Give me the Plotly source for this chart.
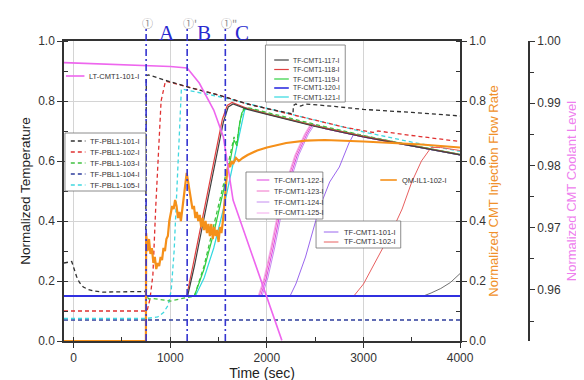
import plotly.graph_objects as go

# ---------------- data ----------------
t_pbl101 = [-100, -20, 0, 30, 60, 100, 150, 200, 300, 500, 745, 752, 775, 960, 1200, 1500, 1800, 2000, 2270, 2275, 2300, 2350, 2400, 2700, 3000, 3500, 4000]
v_pbl101 = [0.26, 0.265, 0.245, 0.215, 0.195, 0.18, 0.172, 0.167, 0.163, 0.163, 0.165, 0.885, 0.887, 0.868, 0.845, 0.82, 0.79, 0.775, 0.757, 0.785, 0.79, 0.783, 0.79, 0.782, 0.772, 0.762, 0.75]

t_pbl102 = [-100, 760, 790, 820, 850, 880, 905, 950, 1200, 1500, 1800, 2000, 2500, 2800, 3100, 3150, 3500, 4000]
v_pbl102 = [0.10, 0.10, 0.14, 0.22, 0.45, 0.65, 0.80, 0.866, 0.845, 0.82, 0.79, 0.775, 0.735, 0.713, 0.695, 0.70, 0.685, 0.665]

t_pbl103 = [-100, 750, 780, 820, 900, 1000, 1100, 1200, 1250, 1350, 1450, 1550, 1620, 1660, 1690, 1720, 1760, 1800, 2000, 2500, 3000, 3500, 4000]
v_pbl103 = [0.15, 0.15, 0.14, 0.142, 0.138, 0.133, 0.14, 0.147, 0.15, 0.25, 0.38, 0.52, 0.62, 0.68, 0.66, 0.73, 0.775, 0.778, 0.762, 0.722, 0.685, 0.652, 0.622]

t_pbl104 = [-100, 4000]
v_pbl104 = [0.07, 0.07]

t_pbl105 = [-100, 750, 870, 930, 980, 1010, 1040, 1060, 1080, 1100, 1115, 1500, 2000, 2500, 3000, 3500, 4000]
v_pbl105 = [0.075, 0.075, 0.08, 0.095, 0.12, 0.17, 0.30, 0.45, 0.62, 0.78, 0.84, 0.815, 0.775, 0.735, 0.697, 0.663, 0.632]

t_cmt117 = [-100, 1180, 1250, 1300, 1350, 1400, 1450, 1500, 1550, 1600, 1650, 1800, 2000, 2500, 3000, 3500, 4000]
v_cmt117 = [0.15, 0.15, 0.25, 0.33, 0.42, 0.50, 0.58, 0.66, 0.73, 0.78, 0.79, 0.772, 0.755, 0.715, 0.68, 0.65, 0.62]

t_cmt118 = [-100, 1170, 1240, 1290, 1340, 1390, 1440, 1490, 1540, 1590, 1640, 1800, 2000, 2500, 3000, 3500, 4000]
v_cmt118 = [0.15, 0.15, 0.26, 0.34, 0.43, 0.51, 0.59, 0.67, 0.74, 0.785, 0.795, 0.775, 0.757, 0.717, 0.682, 0.651, 0.621]

t_cmt119 = [-100, 1250, 1350, 1450, 1550, 1620, 1660, 1690, 1710, 1740, 1780, 1850, 2000, 2500, 3000, 3500, 4000]
v_cmt119 = [0.15, 0.15, 0.24, 0.36, 0.50, 0.60, 0.67, 0.65, 0.71, 0.76, 0.777, 0.772, 0.758, 0.718, 0.683, 0.652, 0.622]

t_cmt120 = [-100, 4000]
v_cmt120 = [0.15, 0.15]

t_cmt121 = [-100, 1260, 1350, 1450, 1550, 1650, 1720, 1770, 1800, 2000, 2500, 3000, 3500, 4000]
v_cmt121 = [0.15, 0.15, 0.21, 0.31, 0.44, 0.59, 0.70, 0.77, 0.775, 0.757, 0.717, 0.682, 0.65, 0.62]

t_cmt122 = [-100, 1935, 1995, 2065, 2145, 2215, 2315, 2415, 2475, 2600, 3000, 3500, 4000]
v_cmt122 = [0.15, 0.15, 0.21, 0.31, 0.44, 0.52, 0.62, 0.69, 0.722, 0.708, 0.68, 0.65, 0.62]
t_cmt123 = [-100, 1920, 1980, 2050, 2130, 2200, 2300, 2400, 2460, 2600, 3000, 3500, 4000]
v_cmt123 = [0.15, 0.15, 0.21, 0.31, 0.44, 0.52, 0.62, 0.69, 0.722, 0.708, 0.68, 0.65, 0.62]
t_cmt124 = [-100, 1950, 2010, 2080, 2160, 2230, 2330, 2430, 2490, 2600, 3000, 3500, 4000]
v_cmt124 = [0.15, 0.15, 0.21, 0.31, 0.44, 0.52, 0.62, 0.69, 0.72, 0.708, 0.68, 0.65, 0.62]
t_cmt125 = [-100, 1910, 1970, 2040, 2120, 2190, 2290, 2390, 2450, 2600, 3000, 3500, 4000]
v_cmt125 = [0.15, 0.15, 0.21, 0.31, 0.44, 0.52, 0.62, 0.69, 0.722, 0.708, 0.68, 0.65, 0.62]

t_cmt101 = [-100, 2240, 2300, 2400, 2540, 2650, 2750, 2800, 2850, 2900, 3000, 3500, 4000]
v_cmt101 = [0.15, 0.15, 0.19, 0.28, 0.44, 0.53, 0.58, 0.62, 0.66, 0.69, 0.683, 0.652, 0.622]

t_cmt102 = [-100, 2900, 3000, 3100, 3200, 3300, 3400, 3500, 3600, 3700, 3800, 4000]
v_cmt102 = [0.15, 0.15, 0.19, 0.25, 0.31, 0.37, 0.44, 0.53, 0.60, 0.645, 0.645, 0.635]

t_late = [-100, 3620, 3700, 3800, 3900, 4000]
v_late = [0.15, 0.15, 0.16, 0.175, 0.195, 0.225]

# CMT coolant level (third axis)
t_level = [-100, 500, 1000, 1175, 1300, 1450, 1550, 1650, 1800, 2000, 2155]
v_level = [0.99653, 0.99624, 0.99590, 0.99566, 0.99325, 0.98891, 0.98457, 0.97444, 0.96769, 0.95900, 0.95190]

# CMT injection flow rate (right axis)
t_flow = [-100, 748, 750, 765, 780, 795, 810, 825, 840, 855, 870, 885, 900, 915, 930, 945, 960, 975, 990, 1005,
          1020, 1035, 1050, 1065, 1080, 1095, 1110, 1125, 1140, 1155, 1170, 1185, 1200, 1215, 1230, 1245, 1260,
          1275, 1290, 1305, 1320, 1335, 1350, 1365, 1380, 1395, 1410, 1425, 1440, 1455, 1470, 1485, 1500, 1515,
          1530, 1545, 1560, 1575, 1590, 1605, 1620, 1635, 1650, 1680, 1710, 1750, 1800, 1900, 2000, 2200, 2400,
          2600, 2800, 3000, 3300, 3600, 4000]
v_flow = [0.0, 0.0, 0.36, 0.30, 0.34, 0.29, 0.31, 0.26, 0.28, 0.24, 0.26, 0.25, 0.28, 0.27, 0.31, 0.30, 0.34, 0.35, 0.40, 0.42,
          0.45, 0.44, 0.47, 0.45, 0.41, 0.43, 0.40, 0.44, 0.49, 0.52, 0.56, 0.53, 0.50, 0.46, 0.44, 0.45, 0.41,
          0.43, 0.40, 0.42, 0.38, 0.41, 0.37, 0.40, 0.36, 0.39, 0.35, 0.39, 0.34, 0.38, 0.35, 0.37, 0.33, 0.38,
          0.36, 0.40, 0.45, 0.52, 0.57, 0.59, 0.58, 0.60, 0.59, 0.61, 0.60, 0.61, 0.62, 0.635, 0.645, 0.66, 0.668,
          0.67, 0.668, 0.665, 0.66, 0.655, 0.645]

event_t = [750, 1175, 1570]
event_marks = ["①", "①'", "①\""]
event_letters = ["A", "B", "C"]

x_ticks = [0, 1000, 2000, 3000, 4000]
y_ticks = [0.0, 0.2, 0.4, 0.6, 0.8, 1.0]
lvl_ticks = [0.96, 0.97, 0.98, 0.99, 1.00]

# ---------------- layout geometry ----------------
W, H = 584, 380
ML, MR, MT, MB = 56, 6, 33, 47
PW = W - ML - MR
PH = H - MT - MB
PLOT_RIGHT = 463
XDOM = (PLOT_RIGHT - ML) / PW
AX3_X = 534


def px(xp):
    return (xp - ML) / PW


def py(yp):
    return (MT + PH - yp) / PH


FONT = "Liberation Sans, Arial, sans-serif"

fig = go.Figure()

styles = {}


def add(t, v, name, color, dash="solid", width=1.2, yaxis="y"):
    styles[name] = dict(color=color, dash=dash, width=width)
    fig.add_trace(go.Scatter(x=t, y=v, mode="lines", name=name, yaxis=yaxis, showlegend=False,
                             line=dict(color=color, dash=dash, width=width)))


D = "4px,3px"
add(t_pbl104, v_pbl104, "TF-PBL1-104-I", "#2c3c9c", D, 1.3)
add(t_pbl105, v_pbl105, "TF-PBL1-105-I", "#40d8e0", D, 1.3)
add(t_pbl103, v_pbl103, "TF-PBL1-103-I", "#40c040", D, 1.3)
add(t_late, v_late, "late", "#707070", "solid", 1.0)
add(t_cmt102, v_cmt102, "TF-CMT1-102-I", "#e86060", "solid", 1.0)
add(t_cmt101, v_cmt101, "TF-CMT1-101-I", "#9a66ee", "solid", 1.0)
add(t_cmt125, v_cmt125, "TF-CMT1-125-I", "#f4a8ec", "solid", 1.0)
add(t_cmt124, v_cmt124, "TF-CMT1-124-I", "#c48cf0", "solid", 1.0)
add(t_cmt123, v_cmt123, "TF-CMT1-123-I", "#f070c8", "solid", 1.0)
add(t_cmt122, v_cmt122, "TF-CMT1-122-I", "#e040e0", "solid", 1.0)
add(t_cmt121, v_cmt121, "TF-CMT1-121-I", "#30d8e0", "solid", 1.2)
add(t_cmt119, v_cmt119, "TF-CMT1-119-I", "#30d040", "solid", 1.2)
add(t_cmt118, v_cmt118, "TF-CMT1-118-I", "#e04040", "solid", 1.2)
add(t_cmt117, v_cmt117, "TF-CMT1-117-I", "#404040", "solid", 1.2)
add(t_pbl102, v_pbl102, "TF-PBL1-102-I", "#e03030", D, 1.3)
add(t_pbl101, v_pbl101, "TF-PBL1-101-I", "#303030", D, 1.3)
add(t_cmt120, v_cmt120, "TF-CMT1-120-I", "#3030e0", "solid", 1.8)
add(t_flow, v_flow, "QM-IL1-102-I", "#f5901a", "solid", 2.2, "y2")
add(t_level, v_level, "LT-CMT1-101-I", "#ee66ee", "solid", 1.6, "y3")

shapes = []
annotations = []

# event lines and their labels
for t, mark in zip(event_t, event_marks):
    shapes.append(dict(type="line", xref="x", yref="paper", x0=t, x1=t, y0=0, y1=py(19),
                       line=dict(color="#3535d0", width=1.6, dash="7px,3px,2px,3px")))
    annotations.append(dict(xref="x", yref="paper", x=t, y=py(15), text=mark, showarrow=False,
                            xanchor="left", yanchor="middle", xshift=-6,
                            font=dict(family="Noto Sans CJK JP, DejaVu Sans", size=11, color="#909090")))
letter_shift = [21, 17, 17]
for t, letter, sh in zip(event_t, event_letters, letter_shift):
    annotations.append(dict(xref="x", yref="paper", x=t, y=py(25), text=letter, showarrow=False,
                            xanchor="center", yanchor="middle", xshift=sh,
                            font=dict(family="Liberation Serif, Times New Roman, serif", size=21, color="#2a2ad0")))

# custom legends (pixel layout)
legends = [
    dict(box=(57, 125, 140, 183), rows=[("TF-PBL1-101-I", 133), ("TF-PBL1-102-I", 144), ("TF-PBL1-103-I", 155),
                                         ("TF-PBL1-104-I", 166), ("TF-PBL1-105-I", 177)], lx=(63, 78), tx=81, fs=7.5),
    dict(box=(263, 37, 345, 94), rows=[("TF-CMT1-117-I", 52), ("TF-CMT1-118-I", 61.5), ("TF-CMT1-119-I", 71),
                                        ("TF-CMT1-120-I", 80), ("TF-CMT1-121-I", 89)], lx=(272, 287), tx=289, fs=6.8),
    dict(box=(243, 164, 322, 211), rows=[("TF-CMT1-122-I", 172), ("TF-CMT1-123-I", 183), ("TF-CMT1-124-I", 194),
                                          ("TF-CMT1-125-I", 205)], lx=(254, 267), tx=270, fs=7.2),
    dict(box=(315, 213, 402, 240), rows=[("TF-CMT1-101-I", 224), ("TF-CMT1-102-I", 234)], lx=(323, 338), tx=342, fs=7.5),
    dict(box=None, rows=[("LT-CMT1-101-I", 68)], lx=(58, 77), tx=80, fs=7.5),
    dict(box=None, rows=[("QM-IL1-102-I", 172)], lx=(381, 398), tx=401, fs=7.5),
]
for lg in legends:
    if lg["box"]:
        x0, y0, x1, y1 = lg["box"]
        shapes.append(dict(type="rect", xref="paper", yref="paper", x0=px(x0), x1=px(x1), y0=py(y1), y1=py(y0),
                           line=dict(color="#707070", width=0.8), fillcolor="white", layer="above"))
    for name, yy in lg["rows"]:
        st = styles[name]
        shapes.append(dict(type="line", xref="paper", yref="paper", x0=px(lg["lx"][0]), x1=px(lg["lx"][1]),
                           y0=py(yy), y1=py(yy), layer="above",
                           line=dict(color=st["color"], width=min(st["width"], 1.6), dash=st["dash"])))
        annotations.append(dict(xref="paper", yref="paper", x=px(lg["tx"]), y=py(yy), text=name, showarrow=False,
                                xanchor="left", yanchor="middle", font=dict(family=FONT, size=lg["fs"], color="#333")))

axis_common = dict(showline=True, linecolor="#333", linewidth=1.5, ticks="outside", ticklen=5, tickcolor="#333",
                   tickfont=dict(family=FONT, size=12, color="#333"), zeroline=False)

fig.update_layout(
    width=W, height=H, margin=dict(l=ML, r=MR, t=MT, b=MB),
    paper_bgcolor="white", plot_bgcolor="white", showlegend=False,
    shapes=shapes, annotations=annotations,
    xaxis=dict(domain=[0, XDOM], range=[-100, 4000], tickvals=x_ticks, showgrid=True, gridcolor="#d4d4d4",
               gridwidth=1, mirror=True,
               minor=dict(dtick=500, tick0=0, ticks="inside", ticklen=4, tickcolor="#333", showgrid=False),
               title=dict(text="Time (sec)", font=dict(family=FONT, size=14, color="#222"), standoff=4),
               **axis_common),
    yaxis=dict(range=[0, 1], tickvals=y_ticks, tickformat=".1f", showgrid=True, gridcolor="#d4d4d4",
               minor=dict(dtick=0.1, ticks="inside", ticklen=4, tickcolor="#333", showgrid=False),
               title=dict(text="Normalized Temperature", font=dict(family=FONT, size=13.5, color="#222"), standoff=4),
               **axis_common),
    yaxis2=dict(overlaying="y", side="right", anchor="x", range=[0, 1], tickvals=y_ticks, tickformat=".1f",
                showgrid=False,
                minor=dict(dtick=0.1, ticks="inside", ticklen=4, tickcolor="#333", showgrid=False),
                title=dict(text="Normalized CMT Injection Flow Rate", font=dict(family=FONT, size=13, color="#f0902a"),
                           standoff=4),
                **axis_common),
    yaxis3=dict(overlaying="y", side="right", anchor="free", position=px(AX3_X), range=[0.9518, 1.0],
                tickvals=lvl_ticks, tickformat=".2f", showgrid=False,
                minor=dict(dtick=0.005, ticks="outside", ticklen=4, tickcolor="#333", showgrid=False),
                title=dict(text="Normalized CMT Coolant Level", font=dict(family=FONT, size=13, color="#ee80ee"),
                           standoff=6),
                **axis_common),
)

fig.write_html("out.html")
